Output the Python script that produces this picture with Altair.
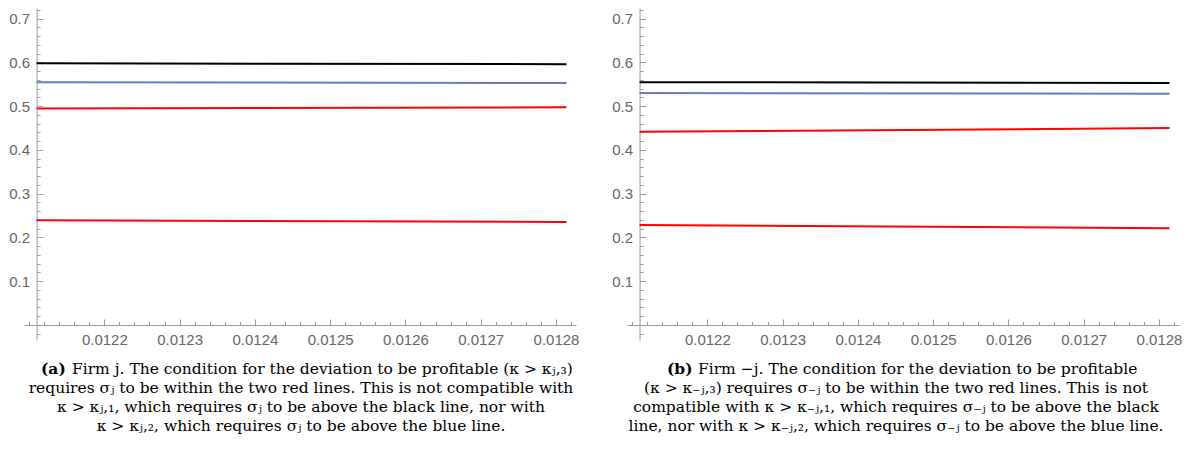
import altair as alt
import pandas as pd

# ---------------- data ----------------
x_ends = [0.01211, 0.012814]

left_black = [0.598, 0.596]
left_blue = [0.555, 0.553]
left_red_hi = [0.495, 0.4975]
left_red_lo = [0.2395, 0.2355]

right_black = [0.555, 0.553]
right_blue = [0.530, 0.5285]
right_red_hi = [0.4415, 0.450]
right_red_lo = [0.2285, 0.221]

x_major = [0.0122, 0.0123, 0.0124, 0.0125, 0.0126, 0.0127, 0.0128]
y_major = [0.1, 0.2, 0.3, 0.4, 0.5, 0.6, 0.7]
x_minor = [round(0.0121 + i * 0.00002, 6) for i in range(37)]
x_minor = [v for v in x_minor if all(abs(v - m) > 1e-7 for m in x_major)]
y_minor = [round(-0.02 + i * 0.02, 2) for i in range(38)]
y_minor = [v for v in y_minor if all(abs(v - m) > 1e-6 for m in y_major) and v != 0]

series_names = ["red_hi", "red_lo", "blue", "black"]
series_colors = ["#ff0000", "#ff0000", "#5e81b5", "#000000"]

left_caption_prefix = "(a)"
left_caption = [
    "Firm j. The condition for the deviation to be profitable (κ > κⱼ,₃)",
    "requires σⱼ to be within the two red lines. This is not compatible with",
    "κ > κⱼ,₁, which requires σⱼ to be above the black line, nor with",
    "κ > κⱼ,₂, which requires σⱼ to be above the blue line.",
]
right_caption_prefix = "(b)"
right_caption = [
    "Firm −j. The condition for the deviation to be profitable",
    "(κ > κ₋ⱼ,₃) requires σ₋ⱼ to be within the two red lines. This is not",
    "compatible with κ > κ₋ⱼ,₁, which requires σ₋ⱼ to be above the black",
    "line, nor with κ > κ₋ⱼ,₂, which requires σ₋ⱼ to be above the blue line.",
]

# ---------------- layout ----------------
W, H, SPACING = 570, 435, 33
X_DOMAIN = [0.0120933, 0.0128266]
X_RANGE = [15, 567]
Y_DOMAIN = [-0.0343, 0.7244]
Y_RANGE = [332, 0]
Y_AXIS_X = X_RANGE[0] + (x_ends[0] - X_DOMAIN[0]) / (X_DOMAIN[1] - X_DOMAIN[0]) * (X_RANGE[1] - X_RANGE[0])
X_AXIS_Y = Y_RANGE[0] - (0 - Y_DOMAIN[0]) / (Y_DOMAIN[1] - Y_DOMAIN[0]) * (Y_RANGE[0] - Y_RANGE[1])

AX = "#9a9a9a"
LAB = "#666666"
SANS = "Liberation Sans"
SERIF = "DejaVu Serif"
CAP_SIZE = 15.5
CAP_Y = [366, 385, 404, 423]
PREFIX_GAP = 31


def make_df(black, blue, red_hi, red_lo):
    rows = []
    for name, vals in zip(series_names, [red_hi, red_lo, blue, black]):
        for x, y in zip(x_ends, vals):
            rows.append({"x": x, "y": y, "series": name})
    return pd.DataFrame(rows)


def panel(df, prefix, caption, first_x, center_x):
    xs = alt.Scale(domain=X_DOMAIN, range=X_RANGE, nice=False, zero=False)
    ys = alt.Scale(domain=Y_DOMAIN, range=Y_RANGE, nice=False, zero=False)
    base = alt.Chart(df)
    lines = base.mark_line(strokeWidth=2).encode(
        x=alt.X("x:Q", scale=xs, axis=alt.Axis(
            orient="bottom", offset=X_AXIS_Y - H, values=x_major, format=".4f",
            ticks=False, grid=False, domainColor=AX, domainWidth=1, labelColor=LAB,
            labelFont=SANS, labelFontSize=15, labelPadding=8, title=None)),
        y=alt.Y("y:Q", scale=ys, axis=alt.Axis(
            orient="left", offset=-Y_AXIS_X, values=y_major, format=".1f",
            ticks=False, grid=False, domainColor=AX, domainWidth=1, labelColor=LAB,
            labelFont=SANS, labelFontSize=15, labelPadding=7, title=None)),
        color=alt.Color("series:N", scale=alt.Scale(domain=series_names, range=series_colors), legend=None),
    )

    def tick_layer(xv, yv, size):
        return base.mark_line(opacity=0).encode(
            x=alt.X("x:Q", scale=xs, axis=alt.Axis(
                orient="top", offset=-X_AXIS_Y, values=xv, labels=False, domain=False,
                ticks=True, tickSize=size, tickColor=AX, grid=False, title=None)),
            y=alt.Y("y:Q", scale=ys, axis=alt.Axis(
                orient="right", offset=Y_AXIS_X - W, values=yv, labels=False, domain=False,
                ticks=True, tickSize=size, tickColor=AX, grid=False, title=None)),
            detail="series:N",
        )

    major = tick_layer(x_major, y_major, 6)
    minor = tick_layer(x_minor, y_minor, 3.5)

    texts = []
    texts.append(alt.Chart(pd.DataFrame({"t": [prefix]})).mark_text(
        font=SERIF, fontSize=CAP_SIZE, fontWeight="bold", align="left", baseline="alphabetic", color="black"
    ).encode(text="t:N", x=alt.value(first_x), y=alt.value(CAP_Y[0])))
    texts.append(alt.Chart(pd.DataFrame({"t": [caption[0]]})).mark_text(
        font=SERIF, fontSize=CAP_SIZE, align="left", baseline="alphabetic", color="black"
    ).encode(text="t:N", x=alt.value(first_x + PREFIX_GAP), y=alt.value(CAP_Y[0])))
    for i in range(1, 4):
        texts.append(alt.Chart(pd.DataFrame({"t": [caption[i]]})).mark_text(
            font=SERIF, fontSize=CAP_SIZE, align="center", baseline="alphabetic", color="black"
        ).encode(text="t:N", x=alt.value(center_x), y=alt.value(CAP_Y[i])))

    return alt.layer(lines, major, minor, *texts).resolve_axis(
        x="independent", y="independent"
    ).properties(width=W, height=H)


left = panel(make_df(left_black, left_blue, left_red_hi, left_red_lo),
             left_caption_prefix, left_caption, 32, 292)
right = panel(make_df(right_black, right_blue, right_red_hi, right_red_lo),
              right_caption_prefix, right_caption, 55, 284)

chart = alt.hconcat(left, right, spacing=SPACING).properties(
    bounds="flush", padding=0
).configure_view(strokeWidth=0)

chart.save("out.html", embed_options={"renderer": "svg", "actions": False})
